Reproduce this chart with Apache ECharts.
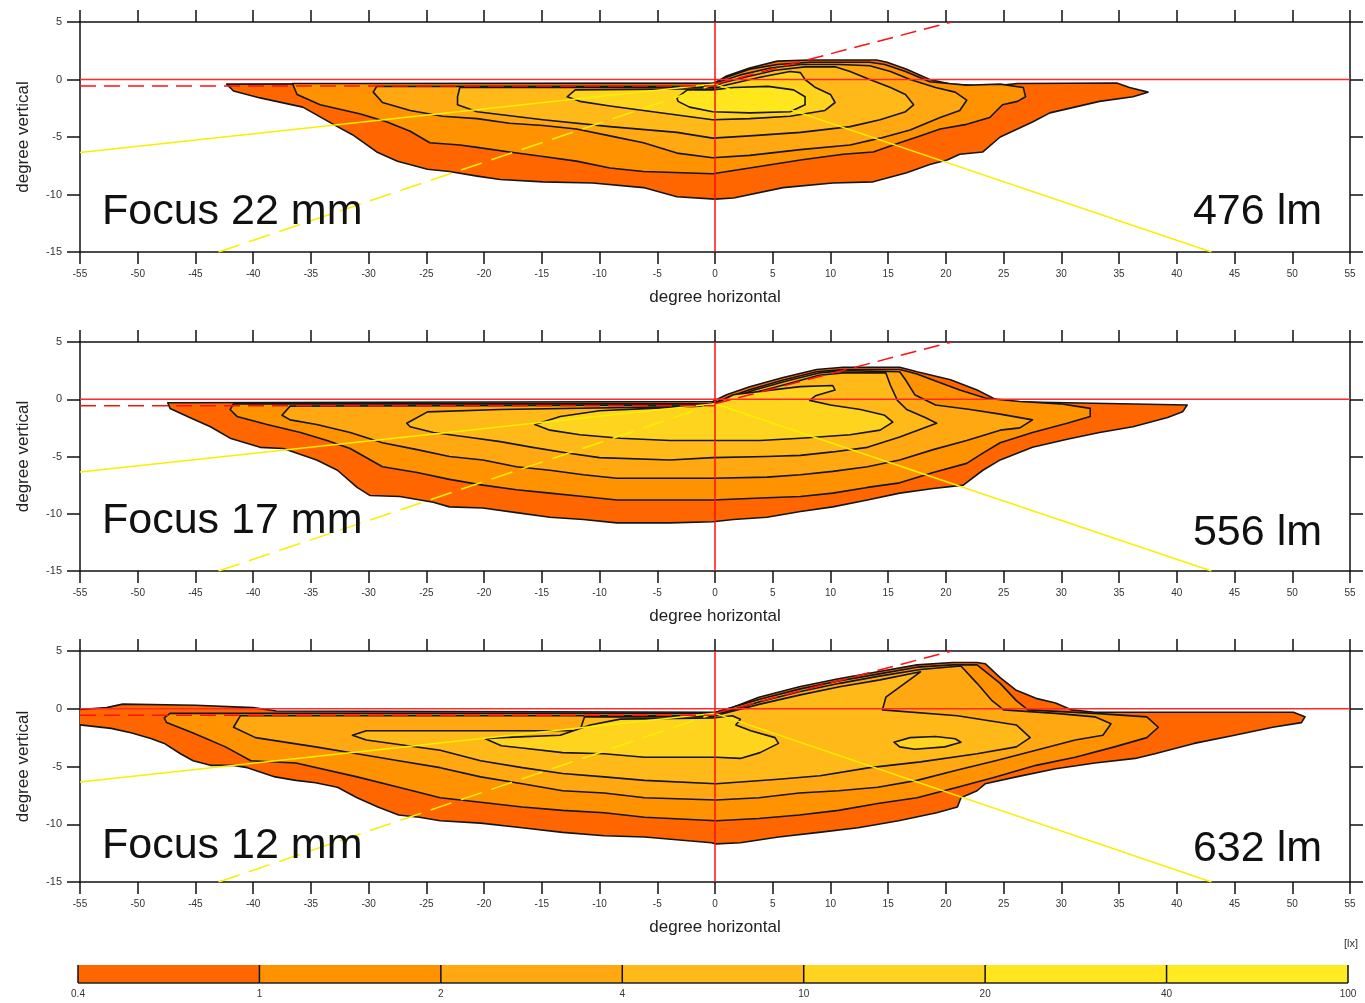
<!DOCTYPE html>
<html><head><meta charset="utf-8">
<script src="https://cdn.jsdelivr.net/npm/echarts@6/dist/echarts.min.js"></script>
<style>html,body{margin:0;padding:0;background:#fff}#c{width:1365px;height:1003px}</style>
</head><body><div id="c"></div>
<script>
// ---------- data ----------
const xRange = [-55, 55];
const yRange = [-15, 5];
const tickStep = 5;
const colorbarLabels = ['0.4', '1', '2', '4', '10', '20', '40', '100'];
const levelColors = ['#FF6600', '#FF9200', '#FFA812', '#FFB918', '#FFD41E', '#FFE61E', '#FFEB22'];
const focusLabels = ['Focus 22 mm', 'Focus 17 mm', 'Focus 12 mm'];
const lumenLabels = ['476 lm', '556 lm', '632 lm'];

// reference lines (degrees)
const redHorizontal = [[-55, 0], [55, 0]];
const redVertical = [[0, -15], [0, 5]];
const cutoffLeft = [[-55, -0.57], [0, -0.57]];
const cutoffRise = [[0, -0.4], [20.5, 5]];
const yellowLeft = [[-55, -6.35], [0, -0.4]];
const yellowRight = [[0, -0.4], [43, -15]];
const yellowDashed = [[-43, -15], [0, -0.4]];

// Panel 1 (Focus 22 mm) isolux contours, outer -> inner
const p1_lv04 = [[-42.3,-0.4],[-41.7,-1.0],[-39.4,-1.6],[-35.7,-2.4],[-32.7,-4.1],[-31.4,-4.8],[-29.3,-6.3],[-27.5,-7.1],[-24.9,-7.8],[-23.0,-8.0],[-20.6,-8.4],[-18.6,-8.7],[-14.9,-8.9],[-10.6,-9.0],[-6.2,-9.4],[-3.3,-10.2],[0.0,-10.4],[1.6,-10.3],[5.9,-9.4],[10.2,-9.0],[13.7,-8.9],[16.6,-8.1],[18.6,-7.4],[20.1,-7.0],[21.2,-6.5],[23.2,-6.3],[24.7,-5.0],[27.5,-3.7],[29.0,-2.9],[33.3,-1.9],[36.2,-1.5],[37.5,-1.1],[35.9,-0.7],[34.8,-0.3],[26.2,-0.35],[23.8,-0.6],[20.4,-0.4],[18.6,0.0],[16.6,0.9],[14.9,1.5],[14.0,1.7],[8.2,1.7],[5.4,1.6],[3.0,1.0],[1.0,0.3],[0.0,-0.3]];
const p1_lv1 = [[-36.6,-0.35],[-36.2,-1.3],[-34.2,-2.2],[-30.7,-3.0],[-28.4,-3.7],[-26.4,-4.5],[-24.7,-5.5],[-22.1,-5.7],[-20.6,-5.9],[-17.8,-6.3],[-14.9,-6.7],[-12.0,-7.1],[-9.1,-7.7],[-6.2,-8.0],[-0.2,-8.2],[3.0,-7.7],[7.4,-7.0],[11.1,-6.5],[13.7,-6.3],[16.0,-5.5],[17.5,-5.0],[19.5,-4.3],[21.8,-3.9],[23.8,-3.3],[24.9,-2.2],[26.2,-1.9],[26.9,-1.5],[26.7,-0.7],[24.7,-0.4],[21.8,-0.5],[18.6,-0.2],[16.5,0.7],[14.7,1.3],[13.4,1.5],[8.2,1.5],[5.4,1.3],[3.0,0.9],[1.0,0.2],[-0.2,-0.35]];
const p1_lv2 = [[-29.6,-1.1],[-29.3,-0.6],[-0.2,-0.6],[0.4,-0.2],[2.2,0.4],[4.8,1.0],[7.4,1.3],[10.8,1.3],[13.4,1.2],[15.2,0.7],[16.9,0.0],[19.1,-0.7],[20.8,-1.1],[21.8,-1.8],[21.2,-2.7],[19.5,-3.3],[16.9,-4.4],[14.3,-5.1],[11.7,-5.7],[7.4,-6.1],[3.0,-6.6],[-0.2,-6.8],[-3.3,-6.4],[-6.2,-5.5],[-9.1,-4.9],[-12.0,-4.3],[-14.9,-4.0],[-17.8,-3.8],[-20.6,-3.4],[-23.6,-3.2],[-26.4,-2.7],[-28.8,-2.0]];
const p1_lv4 = [[-22.3,-1.5],[-22.1,-0.7],[-0.2,-0.7],[0.6,-0.3],[2.6,0.2],[5.2,0.8],[7.8,1.1],[10.4,1.1],[11.7,0.7],[13.4,0.0],[15.2,-0.7],[16.5,-1.3],[17.2,-2.2],[16.5,-2.8],[14.3,-3.5],[11.7,-4.1],[7.4,-4.6],[3.0,-4.9],[-0.2,-5.1],[-3.3,-4.6],[-9.1,-4.1],[-14.9,-3.5],[-20.6,-2.8],[-22.3,-2.2]];
const p1_lv10 = [[-12.8,-1.5],[-12.1,-0.9],[-0.2,-0.8],[0.9,-0.5],[3.9,0.2],[6.5,0.7],[7.4,0.6],[7.8,0.0],[8.7,-0.7],[10.0,-1.3],[10.4,-2.0],[9.5,-2.7],[6.5,-3.2],[3.0,-3.4],[-0.2,-3.5],[-6.2,-2.7],[-9.1,-2.3],[-11.7,-1.9]];
const p1_lv20 = [[-3.3,-1.6],[-2.4,-0.9],[-0.2,-0.9],[1.6,-0.7],[4.6,-0.6],[6.8,-0.9],[7.8,-1.5],[7.8,-2.2],[6.5,-2.8],[3.0,-2.9],[-0.2,-2.8],[-2.2,-2.4],[-3.2,-1.9]];

// Panel 2 (Focus 17 mm)
const p2_lv04 = [[-47.4,-0.3],[-47.2,-0.8],[-45.5,-1.6],[-43.7,-2.4],[-42.0,-3.4],[-39.4,-4.2],[-37.4,-4.3],[-34.5,-5.3],[-32.7,-6.2],[-31.0,-7.7],[-29.9,-8.4],[-27.3,-8.5],[-24.4,-9.0],[-23.0,-9.4],[-20.1,-9.5],[-17.2,-9.9],[-14.3,-10.3],[-11.4,-10.5],[-8.5,-10.8],[-3.9,-10.8],[-0.2,-10.7],[1.6,-10.5],[4.5,-10.3],[7.4,-9.8],[10.2,-9.4],[13.2,-8.8],[16.0,-8.2],[18.9,-7.8],[21.5,-7.5],[23.2,-6.2],[24.7,-5.3],[27.5,-4.2],[30.5,-3.5],[33.3,-2.9],[36.2,-2.4],[39.2,-1.6],[40.5,-1.1],[40.9,-0.5],[30.5,-0.3],[24.7,-0.2],[24.1,0.1],[22.7,0.8],[20.4,1.7],[17.5,2.4],[16.0,2.8],[11.1,2.8],[8.8,2.6],[5.9,1.9],[3.0,1.1],[1.0,0.4],[-0.2,-0.2]];
const p2_lv1 = [[-42.0,-0.9],[-41.7,-0.4],[-0.2,-0.4],[1.2,0.2],[3.2,0.9],[6.0,1.7],[8.8,2.4],[11.1,2.6],[16.0,2.6],[17.5,2.2],[19.1,1.6],[21.2,0.8],[23.4,0.1],[26.4,-0.2],[29.9,-0.4],[32.5,-0.8],[32.5,-1.5],[30.5,-2.1],[27.5,-2.9],[24.7,-3.8],[23.2,-4.7],[21.8,-5.6],[18.9,-6.4],[16.0,-7.3],[13.2,-7.7],[10.2,-8.2],[7.4,-8.5],[4.5,-8.6],[-0.2,-8.8],[-3.9,-8.8],[-8.5,-8.8],[-11.4,-8.5],[-14.3,-8.2],[-17.2,-7.9],[-20.1,-7.5],[-23.0,-7.0],[-25.8,-6.4],[-28.8,-5.9],[-31.6,-4.3],[-33.6,-3.6],[-35.9,-2.9],[-38.8,-2.2],[-41.4,-1.5]];
const p2_lv2 = [[-37.5,-1.4],[-36.8,-0.6],[-0.2,-0.5],[1.4,0.1],[3.4,0.8],[6.2,1.6],[9.0,2.3],[11.1,2.5],[16.0,2.4],[16.5,1.7],[17.3,0.4],[19.1,-0.5],[22.1,-0.9],[24.7,-1.3],[27.5,-1.8],[26.4,-2.5],[24.7,-2.7],[21.8,-3.6],[18.9,-4.4],[16.0,-5.3],[13.2,-5.9],[10.2,-6.3],[7.4,-6.6],[4.5,-6.8],[-0.2,-6.9],[-3.9,-6.9],[-8.5,-6.9],[-11.4,-6.6],[-14.3,-6.2],[-17.2,-5.9],[-20.1,-5.3],[-23.0,-5.0],[-25.8,-4.4],[-28.8,-3.8],[-31.6,-2.9],[-34.5,-2.2],[-36.8,-1.8]];
const p2_lv4 = [[-26.7,-2.1],[-24.9,-1.1],[-18.6,-0.9],[-0.2,-0.6],[1.6,0.0],[3.9,0.7],[6.5,1.4],[9.0,2.1],[11.1,2.3],[14.8,2.3],[15.2,1.2],[15.8,-0.1],[16.6,-0.9],[18.2,-1.6],[19.2,-2.1],[18.9,-2.2],[16.0,-3.3],[13.2,-4.2],[10.2,-4.6],[7.4,-4.9],[4.5,-5.0],[-0.2,-5.1],[-3.9,-5.3],[-10.0,-5.1],[-12.8,-4.7],[-15.8,-4.2],[-18.6,-3.7],[-21.5,-3.3],[-24.4,-2.9],[-26.4,-2.4]];
const p2_lv10 = [[-15.6,-2.2],[-13.4,-1.5],[-10.0,-1.0],[-5.6,-0.8],[-1.3,-0.6],[0.4,-0.2],[1.6,0.4],[4.8,0.8],[7.4,1.1],[10.2,1.2],[10.4,0.8],[8.7,0.3],[8.2,-0.1],[10.0,-0.5],[12.6,-0.9],[14.7,-1.4],[15.4,-2.0],[14.3,-2.7],[11.7,-3.1],[7.4,-3.4],[3.9,-3.6],[-0.2,-3.6],[-3.9,-3.6],[-8.2,-3.4],[-11.7,-3.1],[-14.3,-2.7]];

// Panel 3 (Focus 12 mm)
const p3_lv04 = [[-57,-0.2],[-52.7,0.1],[-51.3,0.4],[-45.0,0.3],[-40.0,0.1],[-38.0,-0.2],[-0.2,-0.3],[0.1,-0.3],[1.5,0.1],[3.8,1.0],[7.3,1.9],[10.7,2.6],[14.1,3.2],[17.5,3.8],[20.6,4.0],[22.7,4.0],[23.4,3.9],[24.7,2.7],[26.1,1.6],[27.8,0.9],[29.5,0.5],[30.9,-0.1],[32.9,-0.3],[50.1,-0.3],[51.1,-0.7],[50.8,-1.2],[48.3,-1.6],[45.0,-2.3],[41.5,-3.0],[38.1,-3.9],[36.4,-4.3],[32.9,-4.7],[29.5,-5.2],[26.1,-5.9],[23.4,-6.5],[22.7,-7.1],[21.3,-7.7],[21.0,-8.5],[19.2,-9.0],[15.9,-9.7],[12.4,-10.3],[9.0,-10.7],[5.5,-11.1],[2.2,-11.6],[0.1,-11.7],[-0.3,-11.6],[-6.1,-11.1],[-9.6,-11.0],[-13.2,-10.7],[-16.7,-10.3],[-20.3,-9.9],[-23.8,-9.7],[-25.6,-9.4],[-27.4,-9.2],[-29.2,-8.5],[-31.0,-7.7],[-32.7,-6.8],[-34.6,-6.4],[-36.3,-6.2],[-38.1,-5.9],[-40.5,-5.1],[-41.7,-4.9],[-43.7,-4.9],[-45.2,-4.5],[-46.3,-3.9],[-47.7,-3.0],[-48.8,-2.6],[-50.5,-2.1],[-52.3,-1.7],[-55.0,-1.4],[-57,-1.4]];
const p3_lv1 = [[-47.7,-0.8],[-47.2,-0.4],[-0.2,-0.4],[0.4,-0.2],[3.8,0.8],[7.3,1.7],[10.7,2.4],[14.1,3.0],[17.5,3.6],[20.6,3.8],[22.7,3.8],[24.7,2.2],[26.1,0.7],[27.1,-0.1],[32.9,-0.4],[37.4,-0.7],[38.4,-1.6],[37.4,-2.5],[34.6,-3.3],[31.2,-4.2],[27.8,-4.9],[24.3,-5.9],[21.0,-6.8],[17.5,-7.7],[14.1,-8.2],[10.7,-8.8],[7.3,-9.2],[3.8,-9.5],[0.1,-9.7],[-6.1,-9.4],[-9.6,-9.0],[-13.2,-8.8],[-16.7,-8.5],[-20.3,-8.1],[-23.8,-7.7],[-27.4,-6.8],[-31.0,-5.9],[-36.3,-4.7],[-40.2,-4.5],[-42.4,-3.3],[-45.2,-2.1],[-47.5,-1.2]];
const p3_lv2 = [[-41.7,-1.6],[-41.1,-0.6],[-0.2,-0.6],[0.4,-0.4],[3.9,0.6],[7.4,1.5],[10.8,2.2],[14.1,2.8],[17.8,3.4],[21.3,3.7],[22.7,2.2],[24.0,0.7],[25.0,-0.1],[29.5,-0.4],[32.9,-0.7],[34.3,-1.3],[33.6,-2.3],[31.2,-2.7],[27.8,-3.6],[24.3,-4.5],[21.0,-5.3],[17.5,-6.2],[14.1,-6.8],[10.7,-7.1],[7.3,-7.3],[3.8,-7.7],[0.1,-7.9],[-6.1,-7.7],[-9.6,-7.3],[-13.2,-7.1],[-16.7,-6.5],[-20.3,-5.9],[-23.8,-5.1],[-27.4,-4.5],[-31.0,-3.9],[-34.6,-3.3],[-39.8,-2.5]];
const p3_lv4 = [[-31.4,-2.3],[-30.2,-1.9],[-11.7,-1.9],[-11.3,-0.7],[-0.2,-0.7],[0.4,-0.5],[3.9,0.4],[7.4,1.2],[10.8,1.9],[14.3,2.5],[17.8,3.2],[14.8,1.0],[14.5,-0.1],[21.0,-0.6],[26.1,-1.4],[27.3,-2.5],[26.1,-3.3],[22.7,-3.9],[17.8,-4.6],[13.4,-5.1],[9.1,-5.8],[5.5,-6.1],[0.1,-6.5],[-6.1,-6.2],[-9.6,-5.9],[-13.2,-5.6],[-16.7,-5.1],[-20.3,-4.5],[-23.8,-3.6],[-30.2,-2.7]];
const p3_lv10 = [[-19.9,-2.6],[-18.5,-2.5],[-13.4,-2.3],[-10.8,-1.4],[-8.2,-0.9],[-0.2,-0.8],[1.5,-0.6],[2.2,-0.9],[1.8,-1.4],[3.1,-1.9],[5.2,-2.5],[5.5,-3.0],[3.9,-3.8],[2.2,-4.3],[0.1,-4.2],[-6.1,-4.2],[-9.6,-3.9],[-13.2,-3.8],[-16.7,-3.4],[-18.5,-3.2]];
const p3_lv10b = [[15.5,-2.9],[16.9,-2.5],[19.1,-2.4],[20.8,-2.6],[21.3,-2.9],[19.9,-3.3],[17.3,-3.5],[16.0,-3.3]];

// polygons per panel with their colour-band index
const panels = [
  [[0, p1_lv04], [1, p1_lv1], [2, p1_lv2], [3, p1_lv4], [4, p1_lv10], [5, p1_lv20]],
  [[0, p2_lv04], [1, p2_lv1], [2, p2_lv2], [3, p2_lv4], [4, p2_lv10]],
  [[0, p3_lv04], [1, p3_lv1], [2, p3_lv2], [3, p3_lv4], [4, p3_lv10], [4, p3_lv10b]]
];

// ---------- layout ----------
const FONT = '"Liberation Sans", Arial, Helvetica, sans-serif';
const gridTops = [22, 342, 651];
const gridHeights = [230, 229, 231];
const focusY = [212, 521, 846];
const lumenY = [212, 533, 849];

const grid = [], xAxis = [], yAxis = [], series = [], graphic = [];
const axisLineStyle = { color: '#111', width: 1.5 };

for (let g = 0; g < 3; g++) {
  grid.push({ left: 80, right: 15, top: gridTops[g], height: gridHeights[g] });
  const baseX = {
    gridIndex: g, type: 'value', min: xRange[0], max: xRange[1], interval: tickStep,
    splitLine: { show: false },
    axisLine: { show: true, onZero: false, lineStyle: axisLineStyle },
    axisTick: { show: true, inside: false, length: 12, lineStyle: axisLineStyle }
  };
  xAxis.push(Object.assign({}, baseX, {
    position: 'bottom',
    axisLabel: { show: true, margin: 17, fontSize: 10, color: '#333', fontFamily: FONT, showMinLabel: true, showMaxLabel: true },
    name: 'degree horizontal', nameLocation: 'middle', nameGap: 37,
    nameTextStyle: { fontSize: 17, color: '#222', fontFamily: FONT }
  }));
  xAxis.push(Object.assign({}, baseX, { position: 'top', axisLabel: { show: false } }));
  const baseY = {
    gridIndex: g, type: 'value', min: yRange[0], max: yRange[1], interval: tickStep,
    splitLine: { show: false },
    axisLine: { show: true, onZero: false, lineStyle: axisLineStyle },
    axisTick: { show: true, inside: false, length: 13, lineStyle: axisLineStyle }
  };
  yAxis.push(Object.assign({}, baseY, {
    position: 'left',
    axisLabel: { show: true, margin: 18, fontSize: 11, color: '#333', fontFamily: FONT },
    name: 'degree vertical', nameLocation: 'middle', nameGap: 48, nameRotate: 90,
    nameTextStyle: { fontSize: 17, color: '#222', fontFamily: FONT }
  }));
  yAxis.push(Object.assign({}, baseY, { position: 'right', axisLabel: { show: false } }));

  const polys = panels[g];
  series.push({
    type: 'custom', xAxisIndex: 2 * g, yAxisIndex: 2 * g, clip: true, z: 2, silent: true,
    data: polys.map(p => p[1][0]),
    renderItem: function (params, api) {
      const p = polys[params.dataIndex];
      return {
        type: 'polygon',
        shape: { points: p[1].map(pt => api.coord(pt)) },
        style: { fill: levelColors[p[0]], stroke: '#151515', lineWidth: 1.6, lineJoin: 'round' }
      };
    }
  });

  const seg = (pts, color, type, width) => ({
    type: 'line', xAxisIndex: 2 * g, yAxisIndex: 2 * g, data: pts, symbol: 'none', showSymbol: false,
    lineStyle: { color: color, width: width, type: type }, z: 4, silent: true
  });
  series.push(seg(yellowLeft, '#F7F000', 'solid', 1.5));
  series.push(seg(yellowRight, '#F7F000', 'solid', 1.5));
  series.push(seg(yellowDashed, '#F7F000', [22, 10], 1.5));
  series.push(seg(cutoffLeft, '#FF1010', [16, 8], 1.5));
  series.push(seg(cutoffRise, '#FF1010', [16, 8], 1.5));
  series.push(seg(redHorizontal, '#FF2A2A', 'solid', 1.5));
  series.push(seg(redVertical, '#FF1010', 'solid', 1.5));

  graphic.push({
    type: 'text', x: 102, y: focusY[g], z: 10, silent: true,
    style: { text: focusLabels[g], font: '43px ' + FONT, fill: '#111', textAlign: 'left', textVerticalAlign: 'middle', align: 'left', verticalAlign: 'middle' }
  });
  graphic.push({
    type: 'text', x: 1322, y: lumenY[g], z: 10, silent: true,
    style: { text: lumenLabels[g], font: '43px ' + FONT, fill: '#111', textAlign: 'right', textVerticalAlign: 'middle', align: 'right', verticalAlign: 'middle' }
  });
}

// colour bar
grid.push({ left: 78, right: 17, top: 965, height: 18 });
xAxis.push({
  gridIndex: 3, type: 'value', min: 0, max: colorbarLabels.length - 1, interval: 1,
  splitLine: { show: false }, axisLine: { show: false }, axisTick: { show: false },
  axisLabel: { show: true, margin: 6, fontSize: 10, color: '#333', fontFamily: FONT, showMinLabel: true, showMaxLabel: true,
    formatter: v => colorbarLabels[Math.round(v)] }
});
yAxis.push({ gridIndex: 3, type: 'value', min: 0, max: 1, show: false });
series.push({
  type: 'custom', xAxisIndex: 6, yAxisIndex: 6, silent: true, z: 2,
  data: colorbarLabels.slice(0, -1).map((_, i) => [i + 0.5, 0.5]),
  renderItem: function (params, api) {
    const i = params.dataIndex;
    const a = api.coord([i, 1]);
    const b = api.coord([i + 1, 0]);
    const children = [
      { type: 'rect', shape: { x: a[0], y: a[1], width: b[0] - a[0], height: b[1] - a[1] },
        style: { fill: levelColors[i], stroke: null } },
      { type: 'line', shape: { x1: a[0], y1: a[1], x2: a[0], y2: b[1] }, style: { stroke: '#111', lineWidth: 1.5 } },
      { type: 'line', shape: { x1: a[0], y1: b[1], x2: b[0], y2: b[1] }, style: { stroke: '#222', lineWidth: 1.5 } }
    ];
    if (i === colorbarLabels.length - 2) {
      children.push({ type: 'line', shape: { x1: b[0], y1: a[1], x2: b[0], y2: b[1] }, style: { stroke: '#111', lineWidth: 1.5 } });
    }
    return { type: 'group', children: children };
  }
});
graphic.push({
  type: 'text', x: 1351, y: 944, silent: true,
  style: { text: '[lx]', font: '11px ' + FONT, fill: '#333', textAlign: 'center', textVerticalAlign: 'middle', align: 'center', verticalAlign: 'middle' }
});

const chart = echarts.init(document.getElementById('c'), null, { renderer: 'canvas' });
chart.setOption({
  animation: false,
  backgroundColor: '#ffffff',
  textStyle: { fontFamily: FONT },
  grid: grid, xAxis: xAxis, yAxis: yAxis, series: series, graphic: graphic
});
</script></body></html>
